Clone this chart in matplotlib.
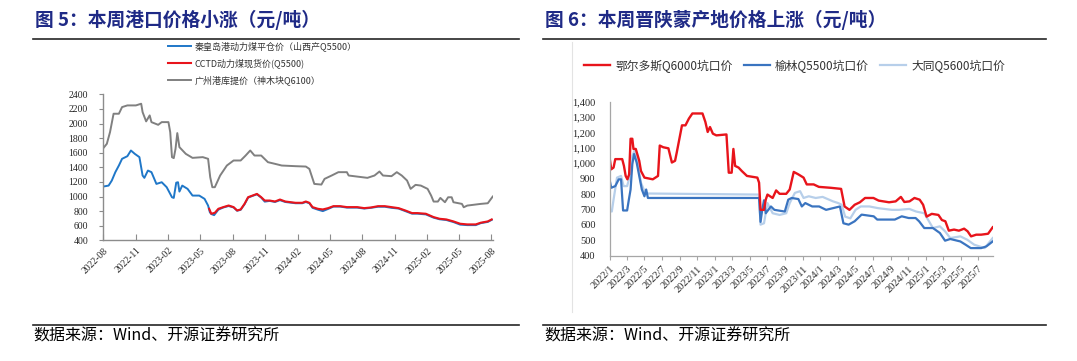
import matplotlib
matplotlib.use('Agg')
import matplotlib.pyplot as plt
import matplotlib.dates as mdates
from matplotlib.lines import Line2D
from matplotlib.ticker import FuncFormatter, FixedLocator
import pandas as pd

plt.rcParams['font.family'] = ['Noto Sans CJK SC', 'DejaVu Sans']
SERIF = ['Liberation Serif', 'DejaVu Serif']

# ---------------- 图5 data ----------------
gz_dates = ['2022-08-01', '2022-08-11', '2022-08-20', '2022-08-30', '2022-09-14', '2022-09-23',
            '2022-10-08', '2022-11-01', '2022-11-16', '2022-11-20', '2022-11-30', '2022-12-10',
            '2022-12-15', '2023-01-03', '2023-01-13', '2023-02-01', '2023-02-06', '2023-02-11',
            '2023-02-16', '2023-02-21', '2023-02-26', '2023-03-04', '2023-03-22', '2023-04-10',
            '2023-05-09', '2023-05-24', '2023-05-30', '2023-06-05', '2023-06-12', '2023-06-27',
            '2023-07-16', '2023-08-04', '2023-08-24', '2023-09-07', '2023-09-20', '2023-10-02',
            '2023-10-21', '2023-11-09', '2023-11-29', '2023-12-18', '2024-01-26', '2024-02-24',
            '2024-03-05', '2024-03-19', '2024-04-08', '2024-04-17', '2024-05-07', '2024-05-26',
            '2024-06-19', '2024-06-24', '2024-08-16', '2024-09-05', '2024-09-19', '2024-09-29',
            '2024-10-23', '2024-11-07', '2024-11-21', '2024-12-06', '2024-12-16', '2024-12-30',
            '2025-01-14', '2025-02-02', '2025-02-12', '2025-02-19', '2025-03-03', '2025-03-10',
            '2025-03-23', '2025-04-01', '2025-04-11', '2025-04-16', '2025-05-10', '2025-05-15',
            '2025-05-25', '2025-07-02', '2025-07-22', '2025-08-05']
gz_price = [1663, 1723, 1883, 2135, 2135, 2226,
            2249, 2249, 2272, 2157, 2030, 2112,
            2020, 1983, 2020, 2020, 1883, 1540,
            1526, 1654, 1870, 1677, 1585, 1530,
            1540, 1517, 1265, 1128, 1128, 1288,
            1425, 1494, 1494, 1562, 1631, 1562,
            1562, 1471, 1448, 1425, 1416, 1411,
            1379, 1173, 1164, 1242, 1288, 1334,
            1334, 1288, 1256, 1288, 1343, 1288,
            1279, 1334, 1288, 1219, 1105, 1160,
            1150, 1105, 1013, 931, 931, 981,
            922, 990, 990, 922, 899, 853,
            876, 899, 908, 1000]

qhd_dates = ['2022-08-01', '2022-08-16', '2022-08-25', '2022-09-04', '2022-09-14', '2022-09-23',
             '2022-10-08', '2022-10-18', '2022-10-29', '2022-11-11', '2022-11-20', '2022-11-25',
             '2022-12-05', '2022-12-15', '2022-12-29', '2023-01-13', '2023-01-27', '2023-02-11',
             '2023-02-16', '2023-02-23', '2023-02-28', '2023-03-04', '2023-03-12', '2023-03-27',
             '2023-04-10', '2023-04-29', '2023-05-14', '2023-05-24', '2023-05-29', '2023-06-02',
             '2023-06-10', '2023-06-22', '2023-07-06', '2023-07-21', '2023-08-04', '2023-08-14',
             '2023-08-24', '2023-09-04', '2023-09-14', '2023-09-27', '2023-10-09', '2023-10-21',
             '2023-10-31', '2023-11-14', '2023-11-29', '2023-12-13', '2023-12-28', '2024-01-26',
             '2024-02-14', '2024-02-24', '2024-03-05', '2024-03-14', '2024-03-29', '2024-04-12',
             '2024-04-27', '2024-05-12', '2024-05-31', '2024-06-19', '2024-07-18', '2024-08-07',
             '2024-08-26', '2024-09-15', '2024-10-04', '2024-10-23', '2024-11-12', '2024-12-01',
             '2024-12-20', '2025-01-04', '2025-01-28', '2025-02-19', '2025-03-08', '2025-03-27',
             '2025-04-16', '2025-05-05', '2025-05-25', '2025-06-18', '2025-07-02', '2025-07-22',
             '2025-08-02']
qhd_price = [1137, 1150, 1219, 1334, 1425, 1517,
             1553, 1631, 1585, 1540, 1288, 1256,
             1356, 1334, 1173, 1196, 1128, 990,
             981, 1190, 1196, 1068, 1150, 1105,
             1013, 1013, 968, 876, 784, 760,
             745, 820, 850, 870, 850, 805,
             818, 895, 985, 1010, 1030, 985,
             930, 940, 925, 950, 925, 908,
             908, 925, 908, 845, 820, 800,
             830, 862, 862, 848, 848, 835,
             845, 860, 860, 845, 835, 800,
             765, 765, 755, 710, 688, 678,
             650, 615, 608, 608, 635, 652,
             680]

cctd_dates = ['2023-05-27', '2023-06-02', '2023-06-12', '2023-06-22', '2023-07-06', '2023-07-21',
              '2023-08-04', '2023-08-14', '2023-08-24', '2023-09-04', '2023-09-14', '2023-09-27',
              '2023-10-09', '2023-10-21', '2023-10-31', '2023-11-14', '2023-11-29', '2023-12-13',
              '2023-12-28', '2024-01-26', '2024-02-14', '2024-02-24', '2024-03-05', '2024-03-14',
              '2024-03-29', '2024-04-12', '2024-04-27', '2024-05-12', '2024-05-31', '2024-06-19',
              '2024-07-18', '2024-08-07', '2024-08-26', '2024-09-15', '2024-10-04', '2024-10-23',
              '2024-11-12', '2024-12-01', '2024-12-20', '2025-01-04', '2025-01-28', '2025-02-19',
              '2025-03-08', '2025-03-27', '2025-04-16', '2025-05-05', '2025-05-25', '2025-06-18',
              '2025-07-02', '2025-07-22', '2025-08-02']
cctd_price = [832, 764, 777, 832, 855, 877,
              855, 809, 823, 900, 991, 1014,
              1036, 991, 945, 945, 932, 959,
              932, 914, 914, 932, 914, 855,
              832, 823, 841, 868, 868, 855,
              855, 841, 850, 868, 868, 855,
              841, 809, 773, 773, 764, 718,
              695, 686, 659, 627, 618, 618,
              641, 659, 686]

# ---------------- 图6 data ----------------
ords_dates = ['2022-01-01', '2022-01-07', '2022-01-15', '2022-01-21', '2022-02-14', '2022-02-20',
              '2022-02-26', '2022-03-04', '2022-03-10', '2022-03-15', '2022-03-21', '2022-03-25',
              '2022-04-02', '2022-04-14', '2022-04-20', '2022-05-02', '2022-05-31', '2022-06-18',
              '2022-06-24', '2022-07-06', '2022-07-24', '2022-08-05', '2022-08-16', '2022-08-22',
              '2022-09-09', '2022-09-21', '2022-10-03', '2022-10-15', '2022-11-19', '2022-11-29',
              '2022-12-07', '2022-12-15', '2022-12-25', '2023-01-06', '2023-02-10', '2023-02-18',
              '2023-02-28', '2023-03-06', '2023-03-12', '2023-03-24', '2023-04-04', '2023-04-22',
              '2023-05-28', '2023-06-03', '2023-06-08', '2023-06-20', '2023-06-26', '2023-07-02',
              '2023-07-20', '2023-08-01', '2023-08-13', '2023-09-05', '2023-09-17', '2023-10-01',
              '2023-10-17', '2023-11-04', '2023-11-15', '2023-12-09', '2023-12-27', '2024-02-06',
              '2024-03-13', '2024-03-25', '2024-04-11', '2024-04-29', '2024-05-17', '2024-06-04',
              '2024-07-03', '2024-07-21', '2024-08-26', '2024-09-18', '2024-10-06', '2024-10-18',
              '2024-11-05', '2024-11-22', '2024-12-10', '2024-12-22', '2025-01-03', '2025-01-21',
              '2025-02-13', '2025-02-25', '2025-03-09', '2025-03-21', '2025-04-08', '2025-04-25',
              '2025-05-13', '2025-05-25', '2025-06-06', '2025-06-24', '2025-07-11', '2025-08-04',
              '2025-08-20']
ords_price = [1040, 961, 972, 1027, 1027, 983,
              918, 896, 928, 1159, 1159, 1093,
              1093, 1016, 950, 907, 896, 918,
              1115, 1104, 1097, 1005, 1016, 1071,
              1246, 1246, 1290, 1323, 1323, 1268,
              1203, 1235, 1192, 1181, 1187, 939,
              939, 1093, 983, 972, 950, 918,
              907, 874, 698, 698, 764, 797,
              775, 824, 802, 802, 830, 944,
              928, 907, 863, 863, 847, 841,
              834, 720, 698, 731, 747, 775,
              775, 758, 747, 753, 782, 749,
              753, 775, 764, 731, 654, 672,
              665, 632, 624, 563, 570, 563,
              576, 559, 526, 537, 537, 543,
              585]

yl_dates = ['2022-01-01', '2022-01-07', '2022-01-21', '2022-02-02', '2022-02-10', '2022-02-17',
            '2022-03-03', '2022-03-09', '2022-03-15', '2022-03-21', '2022-03-27', '2022-04-05',
            '2022-04-14', '2022-04-23', '2022-05-02', '2022-05-08', '2022-05-14', '2023-06-03',
            '2023-06-08', '2023-06-14', '2023-06-20', '2023-06-26', '2023-07-14', '2023-07-26',
            '2023-08-31', '2023-09-12', '2023-09-24', '2023-10-17', '2023-10-29', '2023-11-10',
            '2023-12-04', '2023-12-28', '2024-01-21', '2024-02-14', '2024-03-09', '2024-03-21',
            '2024-04-08', '2024-04-29', '2024-05-23', '2024-07-04', '2024-07-16', '2024-09-15',
            '2024-10-09', '2024-11-02', '2024-11-26', '2024-12-08', '2024-12-26', '2025-01-25',
            '2025-02-18', '2025-03-08', '2025-03-26', '2025-04-30', '2025-05-18', '2025-06-05',
            '2025-07-11', '2025-07-29', '2025-08-20']
yl_price = [896, 841, 852, 896, 896, 694,
            694, 764, 830, 994, 1060, 1005,
            918, 830, 786, 830, 775, 775,
            620, 700, 760, 676, 720, 698,
            687, 764, 775, 768, 720, 742,
            720, 720, 698, 709, 720, 611,
            602, 624, 667, 656, 635, 635,
            656, 645, 645, 624, 580, 580,
            548, 498, 509, 493, 472, 450,
            450, 461, 493]

dt_dates = ['2022-01-01', '2022-01-09', '2022-01-15', '2022-01-27', '2022-02-10', '2022-02-19',
            '2022-03-03', '2022-03-11', '2022-03-21', '2022-03-29', '2022-04-08', '2022-04-20',
            '2022-05-02', '2022-05-14', '2023-06-03', '2023-06-08', '2023-06-20', '2023-07-02',
            '2023-07-20', '2023-08-13', '2023-09-05', '2023-09-17', '2023-10-05', '2023-10-23',
            '2023-11-04', '2023-11-22', '2023-12-16', '2024-01-09', '2024-02-14', '2024-03-03',
            '2024-03-15', '2024-03-27', '2024-04-14', '2024-05-02', '2024-05-20', '2024-06-19',
            '2024-07-19', '2024-09-05', '2024-09-29', '2024-11-04', '2024-11-28', '2024-12-26',
            '2025-01-25', '2025-02-18', '2025-03-08', '2025-03-26', '2025-04-30', '2025-05-24',
            '2025-06-17', '2025-07-23', '2025-08-20']
dt_price = [698, 687, 764, 907, 918, 852,
            852, 907, 1049, 1082, 1005, 874,
            819, 804, 797, 602, 611, 742,
            676, 665, 676, 742, 808, 819,
            775, 786, 775, 782, 753, 742,
            731, 654, 643, 698, 720, 720,
            709, 698, 698, 704, 687, 676,
            580, 591, 559, 515, 526, 504,
            472, 450, 515]

left_ticks = pd.date_range('2022-08-01', '2025-08-01', freq='3MS')
right_ticks = pd.date_range('2022-01-01', '2025-07-01', freq='2MS')

W, H = 1077, 361
fig = plt.figure(figsize=(W / 100, H / 100), dpi=100)


def fx(px):
    return px / W


def fy(py):
    return 1 - py / H


def hline(x0, x1, y, color='#262626', lw=1.2):
    fig.add_artist(Line2D([fx(x0), fx(x1)], [fy(y), fy(y)], color=color, lw=lw,
                          transform=fig.transFigure))


# titles, rules and source notes
title_color = '#1F2A86'
fig.text(fx(35), fy(20), '图 5：本周港口价格小涨（元/吨）', fontsize=13.5, weight='bold',
         color=title_color, va='center', ha='left')
fig.text(fx(545), fy(20), '图 6：本周晋陕蒙产地价格上涨（元/吨）', fontsize=13.5, weight='bold',
         color=title_color, va='center', ha='left')
hline(33, 519, 39)
hline(543, 1046, 39)
hline(33, 519, 325)
hline(543, 1046, 325)
fig.text(fx(33), fy(336), '数据来源：Wind、开源证券研究所', fontsize=11.5, va='center', ha='left')
fig.text(fx(544), fy(336), '数据来源：Wind、开源证券研究所', fontsize=11.5, va='center', ha='left')
fig.add_artist(Line2D([fx(572), fx(572)], [fy(42), fy(312)], color='#E3E3E3', lw=0.8,
                      transform=fig.transFigure))

# ---------------- left chart ----------------
ax1 = fig.add_axes([fx(103.3), fy(240.3), fx(493.1) - fx(103.3), fy(94.4) - fy(240.3)])
l_gz, = ax1.plot(pd.to_datetime(gz_dates), gz_price, color='#808080', lw=1.4,
                 label='广州港库提价（神木块Q6100）')
l_qhd, = ax1.plot(pd.to_datetime(qhd_dates), qhd_price, color='#1F77C8', lw=1.4,
                  label='秦皇岛港动力煤平仓价（山西产Q5500）')
l_cctd, = ax1.plot(pd.to_datetime(cctd_dates), cctd_price, color='#E8141B', lw=1.5,
                   label='CCTD动力煤现货价(Q5500)')
ax1.set_xlim(pd.Timestamp('2022-08-01'), pd.Timestamp('2025-08-06'))
ax1.set_ylim(400, 2400)
ax1.set_yticks(range(400, 2401, 200))
ax1.xaxis.set_major_locator(FixedLocator(mdates.date2num(left_ticks)))
ax1.xaxis.set_major_formatter(mdates.DateFormatter('%Y-%m'))
for s in ['top', 'right']:
    ax1.spines[s].set_visible(False)
for s in ['left', 'bottom']:
    ax1.spines[s].set_color('#8C8C8C')
    ax1.spines[s].set_linewidth(1.0)
ax1.tick_params(axis='y', direction='out', length=3, width=0.8, color='#8C8C8C', pad=8,
                labelsize=7, labelcolor='#262626')
ax1.tick_params(axis='x', direction='in', length=4, width=0.8, color='#8C8C8C', pad=4,
                labelsize=7, labelcolor='#262626')
for lab in ax1.get_xticklabels() + ax1.get_yticklabels():
    lab.set_family(SERIF)
for lab in ax1.get_xticklabels():
    lab.set_rotation(45)
    lab.set_ha('right')
    lab.set_rotation_mode('anchor')
leg1 = ax1.legend(handles=[l_qhd, l_cctd, l_gz], loc='upper left',
                  bbox_to_anchor=(fx(165), fy(39)), bbox_transform=fig.transFigure,
                  frameon=False, fontsize=6.5, handlelength=2.6, handletextpad=0.4,
                  labelspacing=0.75, borderaxespad=0, borderpad=0.3)
for t in leg1.get_texts():
    t.set_color('#333333')

# ---------------- right chart ----------------
ax2 = fig.add_axes([fx(609.5), fy(255.8), fx(993) - fx(609.5), fy(101.6) - fy(255.8)])
l_dt, = ax2.plot(pd.to_datetime(dt_dates), dt_price, color='#B7CFEA', lw=1.6, label='大同Q5600坑口价')
l_yl, = ax2.plot(pd.to_datetime(yl_dates), yl_price, color='#3A74C0', lw=1.6, label='榆林Q5500坑口价')
l_ords, = ax2.plot(pd.to_datetime(ords_dates), ords_price, color='#E8141B', lw=1.7,
                   label='鄂尔多斯Q6000坑口价')
ax2.set_xlim(pd.Timestamp('2022-01-01'), pd.Timestamp('2025-08-21'))
ax2.set_ylim(400, 1400)
ax2.set_yticks(range(400, 1401, 100))
ax2.yaxis.set_major_formatter(FuncFormatter(lambda v, p: f'{int(v):,}'))
ax2.xaxis.set_major_locator(FixedLocator(mdates.date2num(right_ticks)))
ax2.xaxis.set_major_formatter(FuncFormatter(
    lambda v, p: f'{mdates.num2date(v).year}/{mdates.num2date(v).month}'))
for s in ['top', 'right']:
    ax2.spines[s].set_visible(False)
for s in ['left', 'bottom']:
    ax2.spines[s].set_color('#A6A6A6')
    ax2.spines[s].set_linewidth(0.9)
ax2.tick_params(axis='y', length=0, pad=10, labelsize=7.5, labelcolor='#262626')
ax2.tick_params(axis='x', direction='out', length=3, width=0.8, color='#A6A6A6', pad=3,
                labelsize=7.5, labelcolor='#262626')
for lab in ax2.get_xticklabels() + ax2.get_yticklabels():
    lab.set_family(SERIF)
for lab in ax2.get_xticklabels():
    lab.set_rotation(45)
    lab.set_ha('right')
    lab.set_rotation_mode('anchor')
leg2 = ax2.legend(handles=[l_ords, l_yl, l_dt], loc='center left',
                  bbox_to_anchor=(fx(582), fy(66)), bbox_transform=fig.transFigure,
                  ncol=3, frameon=False, fontsize=8.5, handlelength=2.2, handletextpad=0.4,
                  columnspacing=1.0, borderaxespad=0, borderpad=0.2)
for t in leg2.get_texts():
    t.set_color('#333333')

fig.savefig('out.png', dpi=100)
